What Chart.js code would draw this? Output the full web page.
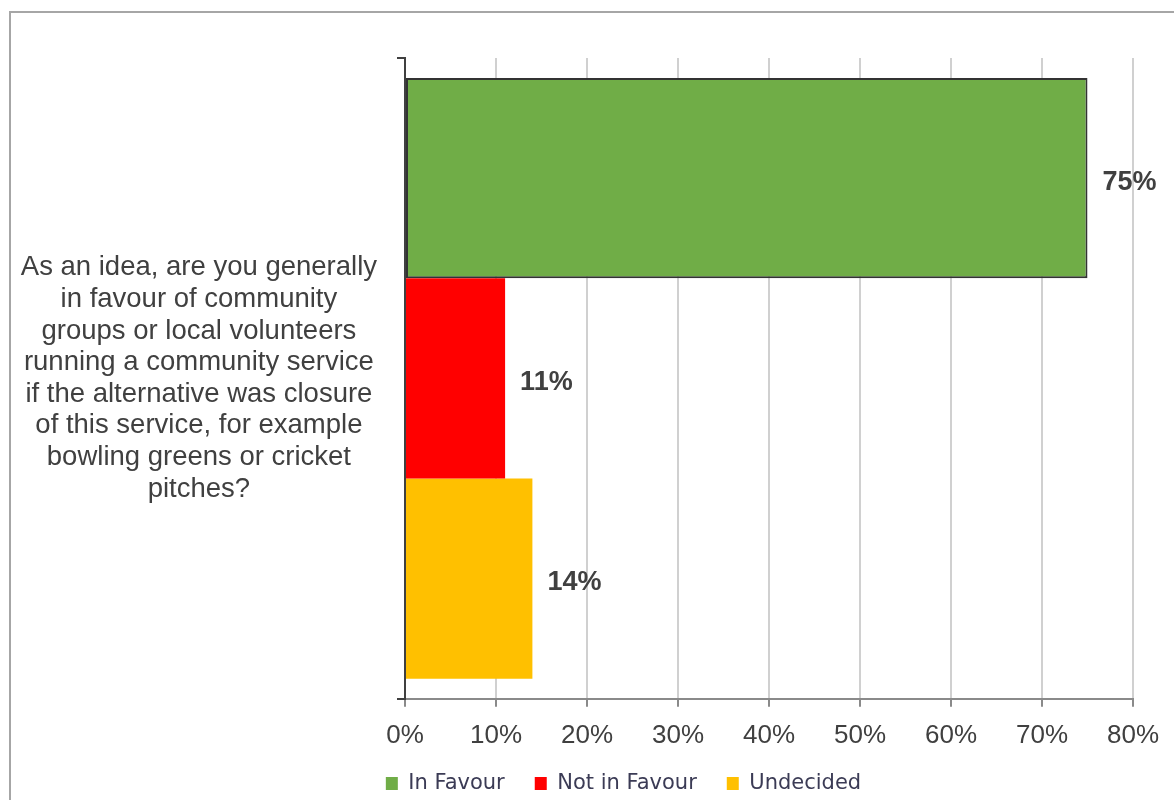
<!DOCTYPE html>
<html>
<head>
<meta charset="utf-8">
<script src="https://cdn.jsdelivr.net/npm/chart.js@4.4.1/dist/chart.umd.min.js"></script>
<style>
    html, body { margin: 0; padding: 0; background: #fff; overflow: hidden; }
    #frame {
        position: absolute;
        left: 9px;
        top: 11px;
        width: 1225px;
        height: 800px;
        border: 2px solid #a6a6a6;
    }
    #chart-wrap { position: relative; width: 1225px; height: 793px; }
</style>
</head>
<body>
<div id="frame">
    <div id="chart-wrap"><canvas id="survey-chart"></canvas></div>
</div>
<script>
// Chart data
const question = [
    'As an idea, are you generally',
    'in favour of community',
    'groups or local volunteers',
    'running a community service',
    'if the alternative was closure',
    'of this service, for example',
    'bowling greens or cricket',
    'pitches?'
];
const seriesNames = ['In Favour', 'Not in Favour', 'Undecided'];
const seriesValues = [[75], [11], [14]];
const seriesColors = ['#70ad47', '#ff0000', '#ffc000'];
const xTicks = [0, 10, 20, 30, 40, 50, 60, 70, 80];

// Draws the "75%" style labels next to each bar
const valueLabels = {
    id: 'valueLabels',
    afterDatasetsDraw(chart) {
        const ctx = chart.ctx;
        ctx.save();
        ctx.font = 'bold 27px "Liberation Sans", Arial, sans-serif';
        ctx.fillStyle = '#404040';
        ctx.textAlign = 'left';
        ctx.textBaseline = 'middle';
        chart.data.datasets.forEach((ds, i) => {
            const meta = chart.getDatasetMeta(i);
            meta.data.forEach((bar, j) => {
                ctx.fillText(ds.data[j] + '%', bar.x + 15, bar.y + 4);
            });
        });
        ctx.restore();
    }
};

const datasets = seriesNames.map((name, i) => ({
    label: name,
    data: seriesValues[i],
    backgroundColor: seriesColors[i],
    borderColor: i === 0 ? '#333333' : seriesColors[i],
    borderWidth: i === 0 ? 2 : 0,
    borderSkipped: false,
    categoryPercentage: 0.9375,
    barPercentage: 1.0,
}));

const ctx = document.getElementById('survey-chart').getContext('2d');
new Chart(ctx, {
    type: 'bar',
    data: {
        labels: [question],
        datasets: datasets,
    },
    options: {
        indexAxis: 'y',
        responsive: true,
        maintainAspectRatio: false,
        animation: false,
        layout: {
            padding: { top: 45, right: 0, bottom: 2, left: 0 },
        },
        plugins: {
            tooltip: { enabled: false },
            legend: {
                display: true,
                position: 'bottom',
                labels: {
                    boxWidth: 12,
                    boxHeight: 13,
                    padding: 30,
                    color: '#3b3b55',
                    font: { family: '"DejaVu Sans", sans-serif', size: 21 },
                    generateLabels: (chart) => {
                        const items = Chart.defaults.plugins.legend.labels.generateLabels(chart);
                        items.forEach(item => {
                            item.lineWidth = 0;
                            item.strokeStyle = item.fillStyle;
                        });
                        return items;
                    },
                },
            },
        },
        scales: {
            x: {
                min: 0,
                max: 80,
                afterBuildTicks: (scale) => {
                    scale.ticks = xTicks.map(v => ({ value: v }));
                },
                afterFit: (scale) => {
                    scale.paddingLeft = 0;
                    scale.paddingRight = 103;
                    scale.height -= 21;
                },
                grid: {
                    color: '#d0d0d0',
                    lineWidth: 2,
                    tickColor: '#8a8a8a',
                    tickLength: 8,
                },
                border: { color: '#8a8a8a', width: 2 },
                ticks: {
                    callback: (v) => v + '%',
                    color: '#404040',
                    padding: 13,
                    font: { family: '"Liberation Sans", Arial, sans-serif', size: 26 },
                },
            },
            y: {
                afterFit: (scale) => {
                    scale.width = 394;
                    scale.paddingTop = 0;
                    scale.paddingBottom = 0;
                },
                grid: {
                    drawOnChartArea: false,
                    tickColor: '#404040',
                    tickLength: 8,
                    lineWidth: 2,
                },
                border: { color: '#404040', width: 2 },
                ticks: {
                    crossAlign: 'center',
                    color: '#404040',
                    padding: 20,
                    font: { family: '"Liberation Sans", Arial, sans-serif', size: 27.5, lineHeight: 1.15 },
                },
            },
        },
    },
    plugins: [valueLabels],
});
</script>
</body>
</html>
